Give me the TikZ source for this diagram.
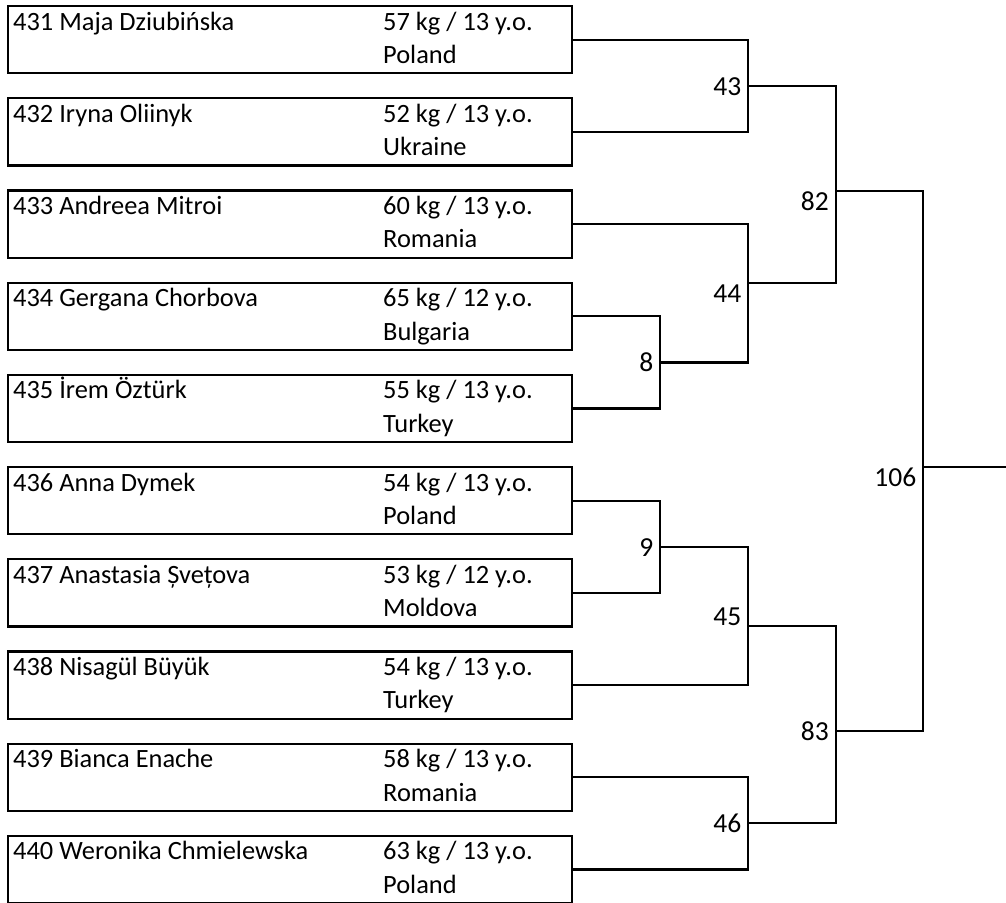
\documentclass[tikz,border=0pt]{standalone}
\usepackage{fontspec}
\setmainfont{Carlito}
\begin{document}
\begin{tikzpicture}[x=1pt,y=-1pt,
  pbox/.style={draw=black,line width=2.2pt,anchor=north west,minimum width=564pt,minimum height=67.3pt,inner sep=0pt,outer sep=0pt},
  nametext/.style={anchor=base west,inner sep=0pt,font=\fontsize{26.4}{30}\selectfont},
  matchlbl/.style={anchor=base east,inner sep=0pt,font=\fontsize{27.5}{32}\selectfont},
  conn/.style={draw=black,line width=2.2pt,line cap=rect}]
\useasboundingbox (0,0) rectangle (1006,902);
\foreach \i/\nm/\kg/\ag/\ct in {
  1/431 Maja Dziubińska/57/13/Poland,
  2/432 Iryna Oliinyk/52/13/Ukraine,
  3/433 Andreea Mitroi/60/13/Romania,
  4/434 Gergana Chorbova/65/12/Bulgaria,
  5/435 İrem Öztürk/55/13/Turkey,
  6/436 Anna Dymek/54/13/Poland,
  7/437 Anastasia Șvețova/53/12/Moldova,
  8/438 Nisagül Büyük/54/13/Turkey,
  9/439 Bianca Enache/58/13/Romania,
  10/440 Weronika Chmielewska/63/13/Poland}{
  \node[pbox] (b\i) at (8,{6+(\i-1)*92.2}) {};
  \node[nametext] (n\i) at ([xshift=5pt,yshift=-24pt]b\i.north west) {\nm};
  \node[nametext] (w\i) at ([xshift=375pt,yshift=-24pt]b\i.north west) {\kg\ kg / \ag\ y.o.};
  \node[nametext] (c\i) at ([xshift=375pt,yshift=-57.5pt]b\i.north west) {\ct};
}
% match junctions (vertical line x, outgoing y)
\coordinate (j43) at (748,85.8);
\coordinate (j8) at (660,362.5);
\coordinate (j44) at (748,282.7);
\coordinate (j82) at (836,190.7);
\coordinate (j9) at (660,547);
\coordinate (j45) at (748,626);
\coordinate (j46) at (748,822.7);
\coordinate (j83) at (836,731);
\coordinate (j106) at (923,467);
\coordinate (fin) at (1006,467);
% connectors
\draw[conn] (b1.east) -| (j43) |- (b2.east);
\draw[conn] (b4.east) -| (j8) |- (b5.east);
\draw[conn] (b3.east) -| (j44) |- (j8);
\draw[conn] (j43) -| (j82) |- (j44);
\draw[conn] (b6.east) -| (j9) |- (b7.east);
\draw[conn] (j9) -| (j45) |- (b8.east);
\draw[conn] (b9.east) -| (j46) |- (b10.east);
\draw[conn] (j45) -| (j83) |- (j46);
\draw[conn] (j82) -| (j106) |- (j83);
\draw[conn] (j106) -- (fin);
% match labels
\node[matchlbl] (l43) at (741.5,95) {43};
\node[matchlbl] (l82) at (829,210.7) {82};
\node[matchlbl] (l44) at (741.5,302.3) {44};
\node[matchlbl] (l8) at (653.5,371.7) {8};
\node[matchlbl] (l106) at (916.5,486.7) {106};
\node[matchlbl] (l9) at (653.5,556.7) {9};
\node[matchlbl] (l45) at (741.5,625) {45};
\node[matchlbl] (l83) at (829,740) {83};
\node[matchlbl] (l46) at (741.5,832.3) {46};
\end{tikzpicture}
\end{document}
